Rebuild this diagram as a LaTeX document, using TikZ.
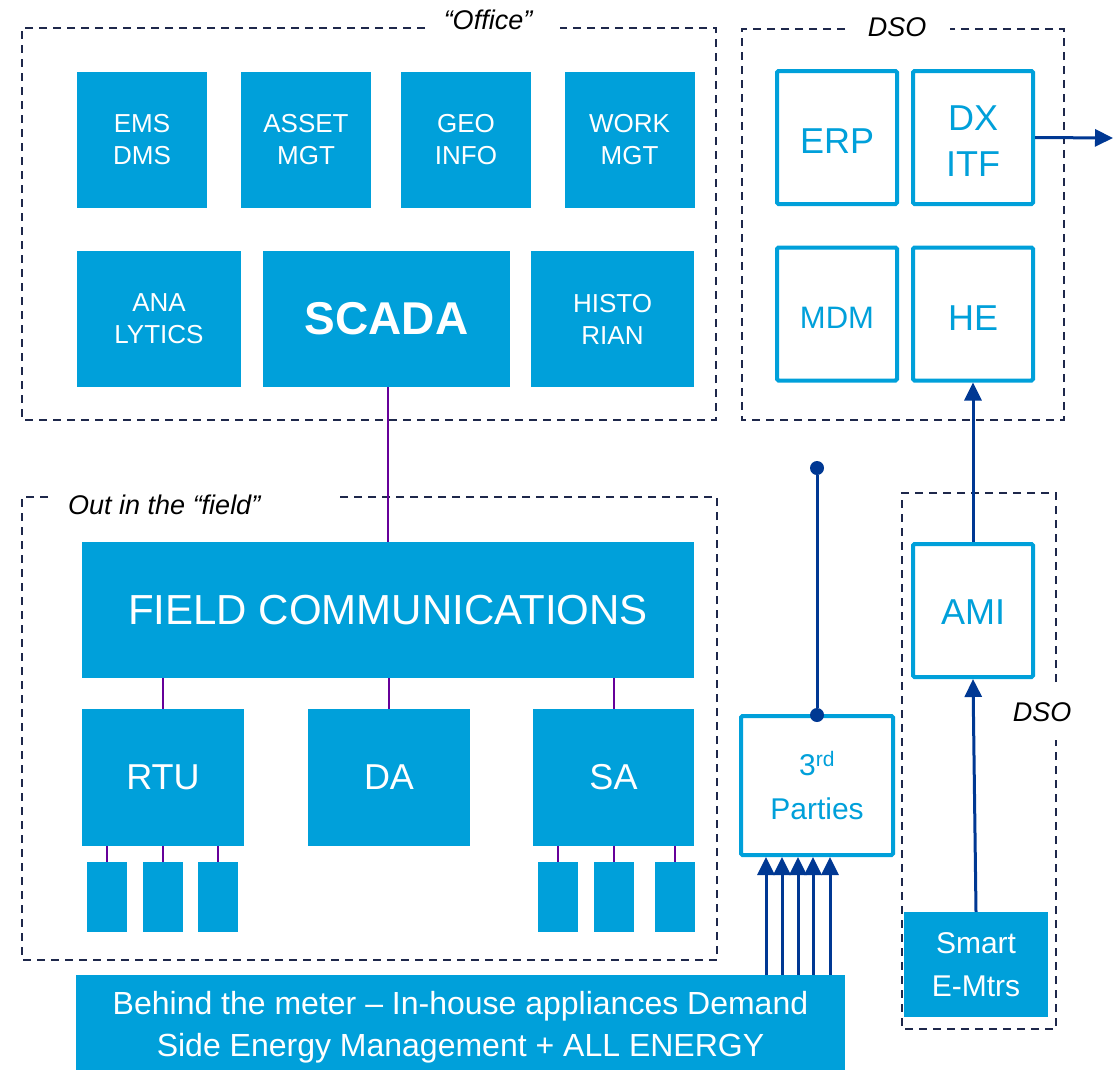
\documentclass[tikz,border=0pt]{standalone}
\usepackage{fontspec}
\setmainfont{Liberation Sans}
\usetikzlibrary{arrows.meta}
\definecolor{boxblue}{RGB}{0,160,218}
\definecolor{linkblue}{RGB}{0,56,147}
\definecolor{wirecol}{RGB}{102,0,153}
\definecolor{framecol}{RGB}{30,40,75}
\newcommand{\lowertext}[2]{\raisebox{-#1}[\height][\depth]{#2}}
\begin{document}
\begin{tikzpicture}[x=1pt,y=-1pt,
  fillbox/.style={fill=boxblue, text=white, inner sep=0pt, align=center},
  linebox/.style={draw=boxblue, line width=4pt, fill=white, text=boxblue, inner sep=0pt, align=center, rounded corners=1.5pt},
  stub/.style={fill=boxblue, inner sep=0pt, minimum width=40pt, minimum height=70pt},
  wire/.style={draw=wirecol, line width=2pt},
  link/.style={draw=linkblue, line width=3pt, -{Triangle[length=18pt,width=17pt]}},
  dotlink/.style={draw=linkblue, line width=3pt},
  dotmark/.style={circle, fill=linkblue, inner sep=0pt, minimum size=14pt},
  frame/.style={draw=framecol, line width=1.8pt, dash pattern=on 8pt off 6pt},
  grouplabel/.style={font=\fontsize{27}{32}\selectfont\itshape, text=black, inner sep=0pt},
  f26/.style={font=\fontsize{26}{32}\selectfont},
  f36/.style={font=\fontsize{36}{46}\selectfont},
]
\useasboundingbox (0,0) rectangle (1115,1069);

% group frames
\draw[frame] (425,28) -- (22,28) -- (22,420) -- (716,420) -- (716,28) -- (560,28);
\node[grouplabel] (officelbl) at (488,20) {“Office”};
\draw[frame] (845,29) -- (742,29) -- (742,420) -- (1064,420) -- (1064,29) -- (950,29);
\node[grouplabel] (dsolbl) at (897,27) {DSO};
\draw[frame] (48,497) -- (22,497) -- (22,960) -- (717,960) -- (717,497) -- (337,497);
\node[grouplabel, anchor=west] (fieldlbl) at (68,505) {Out in the “field”};
\draw[frame] (1056,682) -- (1056,493) -- (902,493) -- (902,1029) -- (1056,1029) -- (1056,740);
\node[grouplabel] (dsolbl2) at (1042,712) {DSO};

% office systems
\node[fillbox, f26, minimum width=130pt, minimum height=136pt] (ems) at (142,140) {EMS\\DMS};
\node[fillbox, f26, minimum width=130pt, minimum height=136pt] (asset) at (306,140) {ASSET\\MGT};
\node[fillbox, f26, minimum width=130pt, minimum height=136pt] (geo) at (466,140) {GEO\\INFO};
\node[fillbox, f26, minimum width=130pt, minimum height=136pt] (work) at (629.5,140) {WORK\\MGT};
\node[fillbox, f26, minimum width=164pt, minimum height=136pt] (ana) at (159,319) {ANA\\LYTICS};
\node[fillbox, font=\fontsize{46}{52}\selectfont\bfseries, minimum width=247pt, minimum height=136pt] (scada) at (386.5,319) {SCADA};
\node[fillbox, f26, minimum width=163pt, minimum height=136pt] (histo) at (612.5,319) {HISTO\\RIAN};

% field equipment
\node[fillbox, font=\fontsize{42}{48}\selectfont, minimum width=612pt, minimum height=136pt] (fieldcom) at (388,610) {FIELD COMMUNICATIONS};
\node[fillbox, f36, minimum width=162pt, minimum height=137pt] (rtu) at (163,777.5) {RTU};
\node[fillbox, f36, minimum width=162pt, minimum height=137pt] (da) at (389,777.5) {DA};
\node[fillbox, f36, minimum width=161pt, minimum height=137pt] (sa) at (613.5,777.5) {SA};
\node[stub] (r1) at (107,897) {};
\node[stub] (r2) at (163,897) {};
\node[stub] (r3) at (218,897) {};
\node[stub] (s1) at (558,897) {};
\node[stub] (s2) at (614,897) {};
\node[stub] (s3) at (675,897) {};

\draw[wire] (fieldcom.north) -- (fieldcom.north |- scada.south);
\foreach \n in {rtu,da,sa} \draw[wire] (\n.north) -- (\n.north |- fieldcom.south);
\foreach \n in {r1,r2,r3} \draw[wire] (\n.north) -- (\n.north |- rtu.south);
\foreach \n in {s1,s2,s3} \draw[wire] (\n.north) -- (\n.north |- sa.south);

% behind the meter
\node[fillbox, font=\fontsize{32}{42}\selectfont, minimum width=769pt, minimum height=105pt] (btm) at (460.5,1027.5)
  {Behind the meter – In-house appliances Demand\\Side Energy Management + ALL ENERGY};

% DSO systems
\node[linebox, f36, minimum width=120pt, minimum height=133pt] (erp) at (837,137.5) {\lowertext{4pt}{ERP}};
\node[linebox, f36, minimum width=120pt, minimum height=133pt] (dx) at (973,137.5) {\lowertext{4pt}{DX}\\\lowertext{4pt}{ITF}};
\node[linebox, font=\fontsize{31}{36}\selectfont, minimum width=120pt, minimum height=133pt] (mdm) at (837,314) {\lowertext{4pt}{MDM}};
\node[linebox, f36, minimum width=120pt, minimum height=133pt] (he) at (973,314) {\lowertext{4pt}{HE}};
\node[linebox, f36, minimum width=120pt, minimum height=133pt] (ami) at (973,610.5) {\lowertext{2pt}{AMI}};
\node[linebox, font=\fontsize{30}{44}\selectfont, minimum width=152pt, minimum height=139pt] (tp) at (817,785.5) {3\textsuperscript{rd}\\Parties};
\node[fillbox, font=\fontsize{30}{43}\selectfont, minimum width=144pt, minimum height=105pt] (smart) at (976,964.5) {Smart\\E-Mtrs};

\coordinate (out) at (1113,138);
\draw[link] (dx.east) -- (out);
\draw[link] (ami.north) -- (he.south);
\draw[link] (smart.north) -- (ami.south);

\node[dotmark] (tap) at (817,468) {};
\node[dotmark] (tpdot) at (817,715) {};
\draw[dotlink] (tap) -- (tpdot);

\foreach \x [count=\i] in {766,782,798,813,830} {
  \coordinate (a\i) at (\x,0);
  \draw[link] (btm.north -| a\i) -- (tp.south -| a\i);
}
\end{tikzpicture}
\end{document}
